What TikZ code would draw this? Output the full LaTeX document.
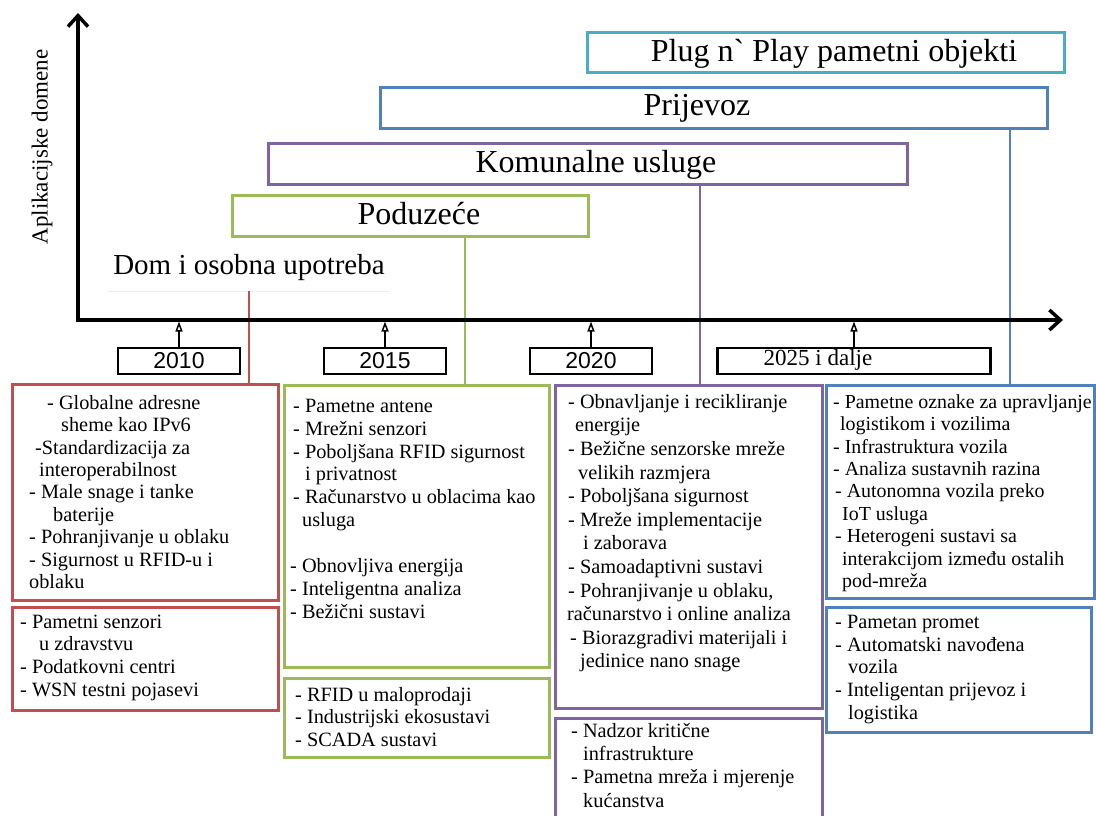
\documentclass[tikz,border=0pt]{standalone}
\usepackage{fontspec}
\setmainfont{Liberation Serif}
\newfontfamily\arialf{Liberation Sans}
\newfontfamily\bezlig{Liberation Serif}[Ligatures=Common]
\usetikzlibrary{arrows.meta}
\definecolor{crvena}{RGB}{192,80,77}
\definecolor{zelena}{RGB}{155,187,89}
\definecolor{ljubicasta}{RGB}{128,100,162}
\definecolor{plava}{RGB}{79,129,189}
\definecolor{tirkizna}{RGB}{75,172,198}
\tikzset{>=latex}
\tikzset{
  domena/.style={draw, line width=3pt, minimum height=41pt, inner sep=0pt, outer sep=0pt},
  natpis/.style={font=\fontsize{32}{36}\selectfont, inner sep=0pt},
  godina/.style={draw, line width=2.5pt, minimum width=122pt, minimum height=26pt, inner sep=0pt, outer sep=0pt, font=\arialf\fontsize{23}{26}\selectfont},
  kutija/.style={draw, line width=3pt, anchor=north west, inner sep=0pt, outer sep=0pt},
  popis/.style={anchor=north west, align=left, inner sep=0pt, font=\fontsize{20.3}{#1}\selectfont},
  popis/.default=22.6,
  veza/.style={line width=2pt},
  oznaka/.style={line width=2.5pt, shorten >=1.5pt, -{Triangle[open, length=10pt, width=7pt, line width=1.5pt]}},
  os/.style={line width=3.5pt, {Straight Barb[length=11pt, width=20pt]}-{Straight Barb[length=11pt, width=20pt]}}
}
\def\uv#1{\hspace*{#1pt}}
\def\prvi{\rule{0pt}{14.5pt}}

\begin{document}
\begin{tikzpicture}[x=1pt, y=-1pt]
          \clip (0,0) rectangle (1096,815);
          \coordinate (ishodiste) at (78,320);
          \coordinate (yvrh) at (78,13);
          \coordinate (xkraj) at (1063,320);
          \coordinate (zveza) at (465,0);
          \coordinate (lveza) at (700,0);
          \coordinate (pveza) at (1010,0);

          \node[rotate=90, inner sep=0pt, font=\fontsize{23}{26}\selectfont] (osy) at (42,147) {Aplikacijske domene};

          \node[natpis, font=\fontsize{29}{32}\selectfont, minimum width=282pt, minimum height=46pt] (dom) at (249,268) {Dom i osobna upotreba};
          \node[domena, draw=zelena, minimum width=356pt] (poduzece) at (410,216) {};
          \node[natpis] (poduzecet) at (419,214) {Poduzeće};
          \node[domena, draw=ljubicasta, minimum width=639pt] (komunalne) at (587.5,163.5) {};
          \node[natpis] (komunalnet) at (596,165) {Komunalne usluge};
          \node[domena, draw=plava, minimum width=667pt] (prijevoz) at (713.5,108) {};
          \node[natpis] (prijevozt) at (697,108) {Prijevoz};
          \node[domena, draw=tirkizna, minimum width=477pt, minimum height=40pt] (plug) at (825.5,52) {};
          \node[natpis] (plugt) at (834,54) {Plug n{\bezlig`} Play pametni objekti};

          \node[godina] (g2010) at (179,361) {2010};
          \node[godina] (g2015) at (385,361) {2015};
          \node[godina] (g2020) at (591,361) {2020};
          \node[godina, minimum width=273pt] (g2025) at (854,361) {};
          \node[inner sep=0pt, font=\fontsize{23}{26}\selectfont] (g2025t) at (818,360) {2025 i dalje};

          \node[kutija, draw=crvena, minimum width=266pt, minimum height=216pt] (crv1) at (12,384) {};
          \node[kutija, draw=crvena, minimum width=266pt, minimum height=103pt] (crv2) at (12,607) {};
          \node[kutija, draw=zelena, minimum width=265pt, minimum height=282pt] (zel1) at (284,385) {};
          \node[kutija, draw=zelena, minimum width=265pt, minimum height=79pt] (zel2) at (284,678) {};
          \node[kutija, draw=ljubicasta, minimum width=267pt, minimum height=323pt] (lju1) at (555,385) {};
          \node[kutija, draw=ljubicasta, minimum width=267pt, minimum height=110pt] (lju2) at (555,718) {};
          \node[kutija, draw=plava, minimum width=268pt, minimum height=213pt] (pla1) at (826,385) {};
          \node[kutija, draw=plava, minimum width=265pt, minimum height=125pt] (pla2) at (826,607) {};

          \node[popis=22.4] (crv1t) at ([shift={(17,10.5)}]crv1.north west) {\prvi\uv{18}- Globalne adresne\\ \uv{32}sheme kao IPv6\\ \uv{6}-Standardizacija za\\ \uv{10}interoperabilnost\\ - Male snage i tanke\\ \uv{24}baterije\\ - Pohranjivanje u oblaku\\ - Sigurnost u RFID-u i\\ oblaku};
          \node[popis=22.7] (crv2t) at ([shift={(8,6.5)}]crv2.north west) {\prvi- Pametni senzori\\ \uv{19}u zdravstvu\\ - Podatkovni centri\\ - WSN testni pojasevi};
          \node[popis=22.9] (zel1t) at ([shift={(6,12.5)}]zel1.north west) {\prvi\uv{3}- Pametne antene\\ \uv{3}- Mrežni senzori\\ \uv{3}- Poboljšana RFID sigurnost\\ \uv{15}i privatnost\\ \uv{3}- Računarstvo u oblacima kao\\ \uv{12}usluga\\[22.9pt] - Obnovljiva energija\\ - Inteligentna analiza\\ - Bežični sustavi};
          \node[popis=22.5] (zel2t) at ([shift={(11,8.5)}]zel2.north west) {\prvi- RFID u maloprodaji\\ - Industrijski ekosustavi\\ - SCADA sustavi};
          \node[popis=23.6] (lju1t) at ([shift={(12,8.5)}]lju1.north west) {\prvi\uv{1}- Obnavljanje i recikliranje\\ \uv{8}energije\\ \uv{1}- Bežične senzorske mreže\\ \uv{11}velikih razmjera\\ \uv{1}- Poboljšana sigurnost\\ \uv{1}- Mreže implementacije\\ \uv{16}i zaborava\\ \uv{1}- Samoadaptivni sustavi\\ \uv{1}- Pohranjivanje u oblaku,\\ računarstvo i online analiza\\ \uv{3}- Biorazgradivi materijali i\\ \uv{13}jedinice nano snage};
          \node[popis=23.3] (lju2t) at ([shift={(16,4.5)}]lju2.north west) {\prvi- Nadzor kritične\\ \uv{12}infrastrukture\\ - Pametna mreža i mjerenje\\ \uv{12}kućanstva};
          \node[popis=22.4, font=\fontsize{19.9}{22.4}\selectfont] (pla1t) at ([shift={(7,8.5)}]pla1.north west) {\prvi- Pametne oznake za upravljanje\\ \uv{7}logistikom i vozilima\\ - Infrastruktura vozila\\ - Analiza sustavnih razina\\ \uv{2}- Autonomna vozila preko\\ \uv{9}IoT usluga\\ \uv{2}- Heterogeni sustavi sa\\ \uv{9}interakcijom između ostalih\\ \uv{9}pod-mreža};
          \node[popis=22.8] (pla2t) at ([shift={(9,6.5)}]pla2.north west) {\prvi- Pametan promet\\ - Automatski navođena\\ \uv{13}vozila\\ - Inteligentan prijevoz i\\ \uv{13}logistika};

          \draw[crvena!12, line width=1pt] (dom.south west) -- (dom.south east);
          \draw[veza, crvena] (dom.south) -- (crv1.north -| dom.south);
          \draw[veza, zelena] (poduzece.south -| zveza) -- (zel1.north -| zveza);
          \draw[veza, ljubicasta] (komunalne.south -| lveza) -- (lju1.north -| lveza);
          \draw[veza, plava] (prijevoz.south -| pveza) -- (pla1.north -| pveza);

          \draw[oznaka] (g2010.north) -- (g2010.north |- ishodiste);
          \draw[oznaka] (g2015.north) -- (g2015.north |- ishodiste);
          \draw[oznaka] (g2020.north) -- (g2020.north |- ishodiste);
          \draw[oznaka] (g2025.north) -- (g2025.north |- ishodiste);

          \draw[os] (yvrh) -- (ishodiste) -- (xkraj);
        \end{tikzpicture}
\end{document}
